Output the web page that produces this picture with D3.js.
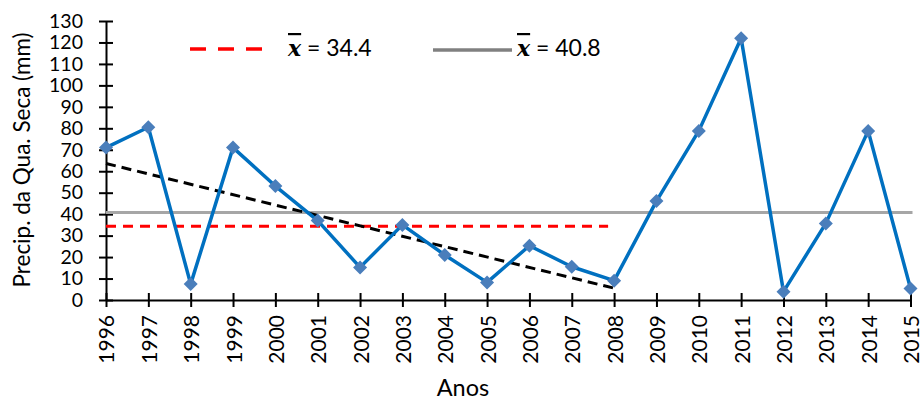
<!DOCTYPE html>
<html>
<head>
<meta charset="utf-8">
<script src="https://cdn.jsdelivr.net/npm/d3@7"></script>
<style>
  body { margin: 0; background: #fff; }
  svg { display: block; font-family: Lato, "Open Sans", sans-serif; }
</style>
</head>
<body>
<svg id="chart" width="923" height="400"></svg>
<script>
const years = ["1996","1997","1998","1999","2000","2001","2002","2003","2004","2005","2006","2007","2008","2009","2010","2011","2012","2013","2014","2015"];
const precip = [71, 80.5, 7.4, 71, 53.1, 37, 15.2, 35, 21, 8.2, 25.3, 15.5, 9, 46.1, 78.8, 122, 3.9, 35.7, 78.8, 5.4];
const yTicks = [0,10,20,30,40,50,60,70,80,90,100,110,120,130];
const meanPeriod = ["1996", "2008"];
const meanPeriodValue = 34.4;
const meanAll = 40.8;
const trendYears = ["1996", "2008"];
const trendValues = [63.6, 5.5];
const legendLabels = ["34.4", "40.8"];

const FONT = "Lato";
const svg = d3.select("#chart");
const x = d3.scalePoint().domain(years).range([106, 910.5]);
const y = d3.scaleLinear().domain([0, 130]).range([300, 21]);

// Y axis
const yAxis = svg.append("g").attr("transform", "translate(106,0)")
  .call(d3.axisLeft(y).tickValues(yTicks).tickSize(7).tickSizeOuter(0).tickPadding(16));
yAxis.select(".domain").attr("stroke", "#000").attr("stroke-width", 2);
yAxis.selectAll(".tick line").attr("x1", 7).attr("x2", -7).attr("stroke", "#000").attr("stroke-width", 2);
yAxis.selectAll(".tick text").attr("font-size", 19.5).attr("fill", "#000").attr("font-family", FONT);

// X axis
const xAxis = svg.append("g").attr("transform", "translate(0,300)")
  .call(d3.axisBottom(x).tickSize(7).tickSizeOuter(0));
xAxis.select(".domain").attr("stroke", "#000").attr("stroke-width", 2);
xAxis.selectAll(".tick line").attr("y1", -7).attr("y2", 7).attr("stroke", "#000").attr("stroke-width", 2);
xAxis.selectAll(".tick text")
  .attr("font-size", 21).attr("fill", "#000").attr("font-family", FONT)
  .attr("transform", "rotate(-90)")
  .attr("text-anchor", "end")
  .attr("x", -15).attr("y", 0).attr("dy", "0.38em");

// Mean of all years (gray)
svg.append("line")
  .attr("x1", x(years[0])).attr("x2", x(years[years.length-1]) + 2)
  .attr("y1", y(meanAll)).attr("y2", y(meanAll))
  .attr("stroke", "#a6a6a6").attr("stroke-width", 3);

// Mean of period (red dashed)
svg.append("line")
  .attr("x1", x(meanPeriod[0])).attr("x2", x(meanPeriod[1]) - 6)
  .attr("y1", y(meanPeriodValue)).attr("y2", y(meanPeriodValue))
  .attr("stroke", "#ff0000").attr("stroke-width", 3).attr("stroke-dasharray", "10,7");

// Trend line (black dashed)
svg.append("line")
  .attr("x1", x(trendYears[0])).attr("x2", x(trendYears[1]))
  .attr("y1", y(trendValues[0])).attr("y2", y(trendValues[1]))
  .attr("stroke", "#000").attr("stroke-width", 3).attr("stroke-dasharray", "10,6");

// Data line
const line = d3.line().x((d, i) => x(years[i])).y(d => y(d));
svg.append("path").datum(precip)
  .attr("d", line).attr("fill", "none")
  .attr("stroke", "#0070c0").attr("stroke-width", 3.5).attr("stroke-linejoin", "round");

// Markers (diamonds)
svg.selectAll(".mk").data(precip).enter().append("path")
  .attr("class", "mk")
  .attr("transform", (d, i) => `translate(${x(years[i])},${y(d)})`)
  .attr("d", "M0,-7L7,0L0,7L-7,0Z")
  .attr("fill", "#4a7ebb");

// Axis titles
svg.append("text").attr("x", 463).attr("y", 396).attr("text-anchor", "middle")
  .attr("font-family", FONT).attr("font-size", 23.5).text("Anos");
svg.append("text").attr("transform", "translate(30,160) rotate(-90)")
  .attr("text-anchor", "middle").attr("font-family", FONT).attr("font-size", 22.5)
  .text("Precip. da Qua. Seca (mm)");

// Legend
const lg = svg.append("g");
lg.append("line").attr("x1", 190).attr("x2", 262).attr("y1", 49).attr("y2", 49)
  .attr("stroke", "#ff0000").attr("stroke-width", 3.5).attr("stroke-dasharray", "16,12");
lg.append("line").attr("x1", 433).attr("x2", 512).attr("y1", 50).attr("y2", 50)
  .attr("stroke", "#808080").attr("stroke-width", 3.5);
const legendX = [288, 517];
legendLabels.forEach((lab, i) => {
  const t = lg.append("text").attr("x", legendX[i]).attr("y", 56)
    .attr("font-family", FONT).attr("font-size", 23);
  t.append("tspan").attr("font-family", "DejaVu Serif").attr("font-style", "italic")
    .attr("font-weight", "bold").attr("font-size", 22)
    .attr("text-decoration", "overline").text("x");
  t.append("tspan").text(" = " + lab);
});
</script>
</body>
</html>
